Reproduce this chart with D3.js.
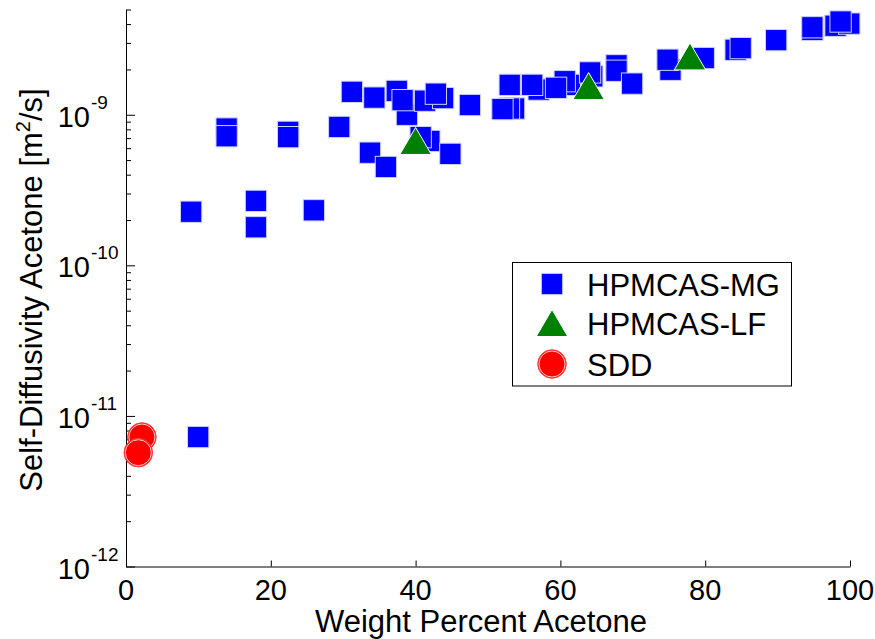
<!DOCTYPE html>
<html><head><meta charset="utf-8">
<script src="https://cdn.jsdelivr.net/npm/d3@7"></script>
<style>body{margin:0;background:#fff}svg{display:block}text{font-family:"Liberation Sans",Arial,sans-serif;fill:#000}</style>
</head><body>
<svg id="c" width="875" height="639"></svg>
<script>
// HPMCAS-MG: weight percent acetone and self-diffusivity (m^2/s)
const mgX = [9.0,13.9,13.9,17.95,17.95,22.4,22.4,25.95,29.45,31.2,34.3,33.7,35.9,37.4,38.8,41.3,41.9,40.7,38.2,43.8,42.8,44.8,47.5,53.6,52.9,52.0,53.0,57.0,56.1,61.3,60.6,59.4,64.4,64.1,67.75,67.75,69.9,75.2,74.8,79.8,84.2,84.9,89.8,94.8,94.8,98.0,99.9,98.7,9.97];
const mgY = [2.27e-10,8.1e-10,7.2e-10,2.68e-10,1.79e-10,7.7e-10,7.1e-10,2.32e-10,8.3e-10,1.42e-9,1.30e-9,5.6e-10,4.5e-10,1.44e-9,1.0e-9,1.24e-9,6.7e-10,7.1e-10,1.25e-9,1.29e-9,1.38e-9,5.5e-10,1.16e-9,1.1e-9,1.1e-9,1.09e-9,1.58e-9,1.47e-9,1.58e-9,1.58e-9,1.67e-9,1.51e-9,1.8e-9,1.91e-9,2.13e-9,1.96e-9,1.61e-9,1.99e-9,2.32e-9,2.38e-9,2.7e-9,2.77e-9,3.13e-9,3.66e-9,3.81e-9,3.9e-9,4.03e-9,4.16e-9,7.24e-12];
// HPMCAS-LF
const lfX = [40.0,63.9,77.9];
const lfY = [6.7e-10,1.55e-9,2.44e-9];
// SDD
const sddX = [2.2,1.7];
const sddY = [7.24e-12,5.7e-12];
const legendLabels = ["HPMCAS-MG","HPMCAS-LF","SDD"];
const xTicks = [0,20,40,60,80,100];
const yMajor = [-12,-11,-10,-9];
const xTitle = "Weight Percent Acetone";

const svg = d3.select("#c");
const x = d3.scaleLinear().domain([0,100]).range([126,850]);
const y = d3.scaleLog().domain([1e-12,5e-9]).range([566.5,9.5]);

// minor y ticks
const yMinor = [];
for (let e=-12;e<=-9;e++) for (let m=2;m<=9;m++){const v=m*Math.pow(10,e); if(v<=5e-9) yMinor.push(v);}

// axes
const gx = svg.append("g").attr("transform","translate(0,566.5)")
  .call(d3.axisBottom(x).tickValues(xTicks).tickSizeInner(-6).tickSizeOuter(0).tickFormat(""));
const gyMinor = svg.append("g").attr("transform","translate(126,0)")
  .call(d3.axisLeft(y).tickValues(yMinor).tickSizeInner(-5).tickSizeOuter(0).tickFormat(""));
const gy = svg.append("g").attr("transform","translate(126,0)")
  .call(d3.axisLeft(y).tickValues(yMajor.map(e=>Math.pow(10,e))).tickSizeInner(-9).tickSizeOuter(0).tickFormat(""));
svg.selectAll(".domain").attr("stroke","#000").attr("stroke-width",1);
svg.selectAll(".tick line").attr("stroke","#000");
gyMinor.select(".domain").remove();

// x tick labels
svg.append("g").selectAll("text").data(xTicks).join("text")
  .attr("x",d=>x(d)).attr("y",600).attr("text-anchor","middle").attr("font-size",29).text(d=>d);
// y tick labels
const yl = svg.append("g").selectAll("g").data(yMajor).join("g");
yl.append("text").attr("x",90).attr("y",d=>y(Math.pow(10,d))+12).attr("text-anchor","end").attr("font-size",29).text("10");
yl.append("text").attr("x",91).attr("y",d=>y(Math.pow(10,d))-6).attr("font-size",19).text(d=>"-"+Math.abs(d));

// titles
svg.append("text").attr("x",481).attr("y",632).attr("text-anchor","middle").attr("font-size",31).text(xTitle);
const yt = svg.append("text").attr("transform","translate(42,290) rotate(-90)").attr("text-anchor","middle").attr("font-size",31);
yt.append("tspan").text("Self-Diffusivity Acetone [m");
yt.append("tspan").attr("font-size",20).attr("dy",-12).text("2");
yt.append("tspan").attr("dy",12).text("/s]");

// marker shapes
const sq = 21.3;
function square(g){ g.append("rect").attr("x",-sq/2).attr("y",-sq/2).attr("width",sq).attr("height",sq)
  .attr("fill","#0000ff").attr("stroke","#d0d0ff").attr("stroke-width",1); }
function tri(g){ const w=31.5,h=27; g.append("path").attr("d",`M0,${-h/2}L${w/2},${h/2}L${-w/2},${h/2}Z`)
  .attr("fill","#008000").attr("stroke","#ffffff").attr("stroke-width",1); }
function circ(g){ g.append("circle").attr("r",14.3).attr("fill","#ff0000").attr("stroke","#ff4040").attr("stroke-width",1);
  g.append("circle").attr("r",13).attr("fill","none").attr("stroke","#fff").attr("stroke-width",0.8); }

const plot = svg.append("g");
mgX.forEach((v,i)=>{ const g=plot.append("g").attr("transform",`translate(${x(v)},${y(mgY[i])})`); square(g); });
lfX.forEach((v,i)=>{ const g=plot.append("g").attr("transform",`translate(${x(v)},${y(lfY[i])})`); tri(g); });
sddX.forEach((v,i)=>{ const g=plot.append("g").attr("transform",`translate(${x(v)},${y(sddY[i])})`); circ(g); });

// legend
const lg = svg.append("g");
lg.append("rect").attr("x",512.5).attr("y",262.5).attr("width",279).attr("height",123.5).attr("fill","#fff").attr("stroke","#000").attr("stroke-width",1);
const rowsY=[296,335,376];
const drawers=[square,tri,circ];
legendLabels.forEach((t,i)=>{
  const g=lg.append("g").attr("transform",`translate(552,${rowsY[i]-12})`); drawers[i](g);
  lg.append("text").attr("x",587).attr("y",rowsY[i]).attr("font-size",31).text(t);
});
</script>
</body></html>
